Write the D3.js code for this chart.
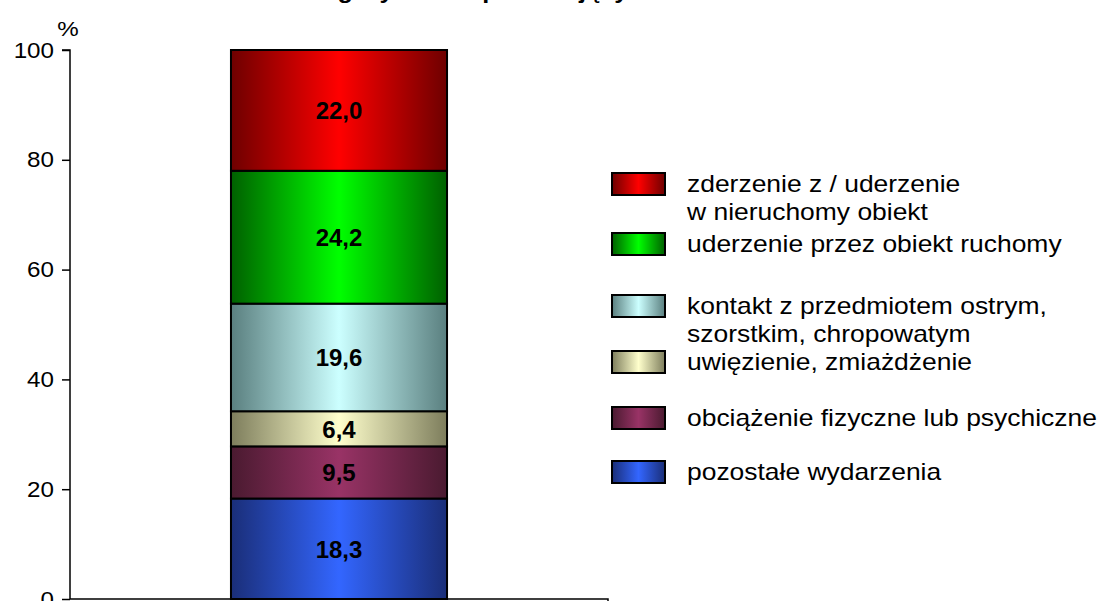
<!DOCTYPE html>
<html>
<head>
<meta charset="utf-8">
<script src="https://cdn.jsdelivr.net/npm/d3@7"></script>
<style>
  body { margin: 0; background: #fff; }
  svg { display: block; font-family: "Liberation Sans", Arial, sans-serif; }
</style>
</head>
<body>
<div id="chart"></div>
<script>
// Data (bottom -> top)
const categories = [
    "pozostałe wydarzenia",
    "obciążenie fizyczne lub psychiczne",
    "uwięzienie, zmiażdżenie",
    "kontakt z przedmiotem ostrym, szorstkim, chropowatym",
    "uderzenie przez obiekt ruchomy",
    "zderzenie z / uderzenie w nieruchomy obiekt"
];
const values = [18.3, 9.5, 6.4, 19.6, 24.2, 22.0];
const valueLabels = ["18,3", "9,5", "6,4", "19,6", "24,2", "22,0"];
const yTicks = [0, 20, 40, 60, 80, 100];
const titleText = "Poszkodowani według wydarzeń powodujących uraz";

// legend lines (top -> bottom), each entry has the category index
const legendLines = [
    { idx: 5, lines: ["zderzenie z / uderzenie", "w nieruchomy obiekt"] },
    { idx: 4, lines: ["uderzenie przez obiekt ruchomy"] },
    { idx: 3, lines: ["kontakt z przedmiotem ostrym,", "szorstkim, chropowatym"] },
    { idx: 2, lines: ["uwięzienie, zmiażdżenie"] },
    { idx: 1, lines: ["obciążenie fizyczne lub psychiczne"] },
    { idx: 0, lines: ["pozostałe wydarzenia"] }
];

// gradient colours: [edge, centre]
const gradColors = [
    ["#1a2e78", "#3366ff"],
    ["#4a1a30", "#993366"],
    ["#7d7d5c", "#ffffcc"],
    ["#5a7f7f", "#ccffff"],
    ["#006000", "#00ff00"],
    ["#6e0000", "#ff0000"]
];

const width = 1101, height = 601;
const svg = d3.select("#chart").append("svg")
    .attr("width", width)
    .attr("height", height);

const defs = svg.append("defs");
gradColors.forEach((c, i) => {
    const g = defs.append("linearGradient")
        .attr("id", "grad" + i)
        .attr("x1", "0%").attr("x2", "100%")
        .attr("y1", "0%").attr("y2", "0%");
    g.append("stop").attr("offset", "0%").attr("stop-color", c[0]);
    g.append("stop").attr("offset", "50%").attr("stop-color", c[1]);
    g.append("stop").attr("offset", "100%").attr("stop-color", c[0]);
});

const sx = 1.15; // horizontal stretch of text in the original picture

// Scales
const x = d3.scaleBand().domain(["a"]).range([70, 608]).paddingInner(0).paddingOuter(0.745);
const y = d3.scaleLinear().domain([0, 100]).range([599, 50]);

// Title (mostly cut off at the top)
svg.append("text")
    .attr("transform", `translate(400,-2) scale(${sx},1)`)
    .attr("text-anchor", "middle")
    .attr("font-weight", "bold")
    .attr("font-size", 22)
    .text(titleText);

// Stack
const stacked = [];
let acc = 0;
values.forEach((v, i) => {
    stacked.push({ i, y0: acc, y1: acc + v, label: valueLabels[i] });
    acc += v;
});

const barX = x("a"), barW = x.bandwidth();

svg.append("g").selectAll("rect")
    .data(stacked)
    .join("rect")
    .attr("x", barX)
    .attr("width", barW)
    .attr("y", d => y(d.y1))
    .attr("height", d => y(d.y0) - y(d.y1))
    .attr("fill", d => `url(#grad${d.i})`)
    .attr("stroke", "#000")
    .attr("stroke-width", 2);

svg.append("g").selectAll("text")
    .data(stacked)
    .join("text")
    .attr("x", barX + barW / 2)
    .attr("y", d => (y(d.y0) + y(d.y1)) / 2 + 9)
    .attr("text-anchor", "middle")
    .attr("font-weight", "bold")
    .attr("font-size", 24)
    .text(d => d.label);

// Y axis
const yAxis = svg.append("g")
    .attr("transform", "translate(70,0)")
    .call(d3.axisLeft(y).tickValues(yTicks).tickSize(8).tickPadding(6));
yAxis.select(".domain").attr("stroke-width", 1.5).attr("d", `M-8,${y(100)}H0V${y(0)}`);
yAxis.selectAll(".tick line").attr("stroke-width", 1.5);
yAxis.selectAll(".tick text")
    .attr("font-size", 22)
    .attr("font-family", "Liberation Sans, Arial, sans-serif")
    .attr("fill", "#000")
    .attr("transform", `scale(1.1,1)`)
    .attr("x", -16 / 1.1);

// X axis
const xAxisG = svg.append("g").attr("transform", `translate(0,${y(0)})`);
xAxisG.append("path")
    .attr("d", `M70,0H608V8`)
    .attr("fill", "none")
    .attr("stroke", "#000")
    .attr("stroke-width", 1.5);

// % unit label
svg.append("text")
    .attr("transform", `translate(68,36) scale(${sx},1)`)
    .attr("text-anchor", "middle")
    .attr("font-size", 21)
    .text("%");

// Legend
const legendTop = [184, 244, 306, 362, 418, 472];
const legend = svg.append("g");
legendLines.forEach((item, k) => {
    const cy = legendTop[k];
    legend.append("rect")
        .attr("x", 612).attr("y", cy - 11)
        .attr("width", 53).attr("height", 22)
        .attr("fill", `url(#grad${item.idx})`)
        .attr("stroke", "#000")
        .attr("stroke-width", 2);
    item.lines.forEach((ln, j) => {
        legend.append("text")
            .attr("transform", `translate(687,${cy + 8 + j * 28}) scale(${sx},1)`)
            .attr("font-size", 23)
            .text(ln);
    });
});
</script>
</body>
</html>
